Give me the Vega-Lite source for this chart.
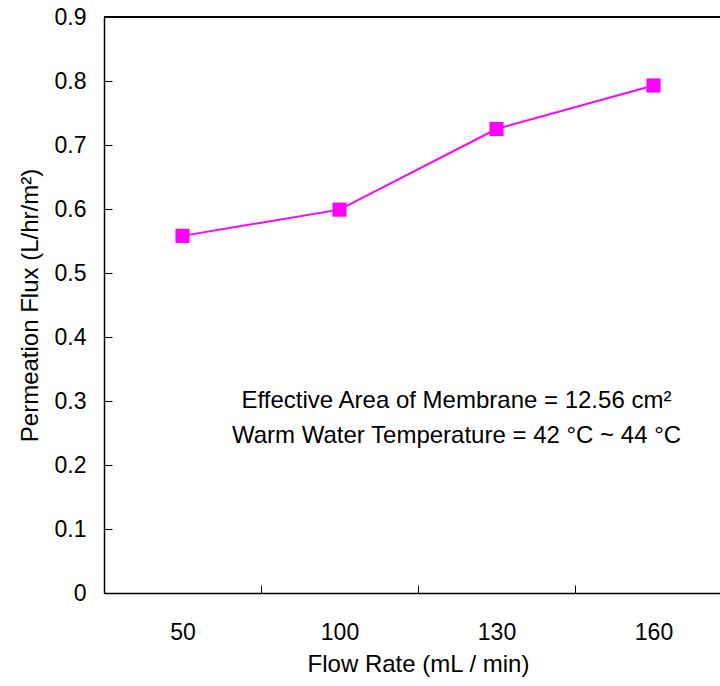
{
  "$schema": "https://vega.github.io/schema/vega-lite/v6.json",
  "autosize": "none",
  "width": 616,
  "height": 576,
  "padding": {"left": 104, "top": 17, "right": 0, "bottom": 93},
  "background": "white",
  "config": {
    "font": "Liberation Sans",
    "view": {"stroke": null},
    "axis": {"grid": false, "domainColor": "black", "tickColor": "black", "labelColor": "black", "titleColor": "black", "labelFont": "Liberation Sans", "titleFont": "Liberation Sans", "labelFontSize": 23, "titleFontSize": 24, "titleFontWeight": "normal", "domainWidth": 1.5, "tickWidth": 1}
  },
  "data": {"values": [
    {"rate": "50", "flux": 0.558},
    {"rate": "100", "flux": 0.599},
    {"rate": "130", "flux": 0.725},
    {"rate": "160", "flux": 0.793}
  ]},
  "layer": [
    {
      "mark": {"type": "rule", "color": "black", "strokeWidth": 1.5},
      "encoding": {"y": {"datum": 0.9, "type": "quantitative", "scale": {"domain": [0, 0.9]}}}
    },
    {
      "mark": {"type": "line", "color": "#FF00FF", "strokeWidth": 2},
      "encoding": {
        "x": {"field": "rate", "type": "ordinal", "sort": null,
          "scale": {"type": "band", "domain": ["50", "100", "130", "160"], "range": [0, 628], "paddingInner": 0, "paddingOuter": 0},
          "axis": {"title": "Flow Rate (mL / min)", "labelAngle": 0, "tickBand": "extent", "tickSize": -8, "labelPadding": 36, "titlePadding": 8}},
        "y": {"field": "flux", "type": "quantitative",
          "scale": {"domain": [0, 0.9], "nice": false, "zero": true},
          "axis": {"title": "Permeation Flux (L/hr/m²)", "values": [0, 0.1, 0.2, 0.3, 0.4, 0.5, 0.6, 0.7, 0.8, 0.9], "format": "~g", "tickSize": -8, "labelPadding": 26, "titlePadding": 12}}
      }
    },
    {
      "mark": {"type": "square", "color": "#FF00FF", "opacity": 1, "filled": true, "size": 200},
      "encoding": {
        "x": {"field": "rate", "type": "ordinal", "sort": null},
        "y": {"field": "flux", "type": "quantitative"}
      }
    },
    {
      "data": {"values": [
        {"rate": "130", "flux": 0.30, "label": "Effective Area of Membrane = 12.56 cm²"},
        {"rate": "130", "flux": 0.245, "label": "Warm Water Temperature = 42 °C ~ 44 °C"}
      ]},
      "mark": {"type": "text", "fontSize": 24, "font": "Liberation Sans", "color": "black", "align": "center", "baseline": "middle", "dx": -40},
      "encoding": {
        "x": {"field": "rate", "type": "ordinal", "sort": null},
        "y": {"field": "flux", "type": "quantitative"},
        "text": {"field": "label"}
      }
    }
  ]
}
